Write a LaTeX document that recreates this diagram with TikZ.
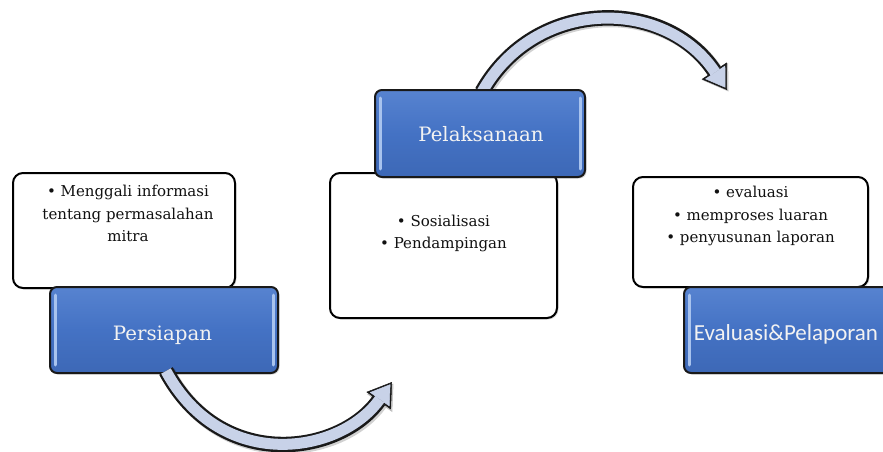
\documentclass[tikz,border=0pt]{standalone}
\usepackage{fontspec}
\setmainfont{DejaVu Serif}
\newfontfamily\sansf{Carlito}
\usetikzlibrary{arrows.meta,shadows}
\definecolor{blueTop}{HTML}{5783D0}
\definecolor{blueMid}{HTML}{4472C4}
\definecolor{blueBot}{HTML}{3D68B6}
\definecolor{bevel}{HTML}{A8C3EE}
\definecolor{arrowfill}{HTML}{C8D2E8}
\definecolor{txtdark}{HTML}{111111}
\tikzset{
  whitebox/.style={draw=black, line width=2pt, rounded corners=10pt, fill=white,
    drop shadow={opacity=0.25, shadow xshift=1.5pt, shadow yshift=-1.5pt}, inner sep=0pt},
  bluebox/.style={draw=black!90, line width=2pt, rounded corners=7pt,
    top color=blueTop, bottom color=blueBot, middle color=blueMid,
    drop shadow={opacity=0.3, shadow xshift=1.5pt, shadow yshift=-1.5pt}, inner sep=0pt},
  smalltxt/.style={align=center, inner sep=0pt, text=txtdark, font=\fontsize{15}{22.8}\selectfont},
  bigtxt/.style={inner sep=0pt, text=white!95!black, font=\fontsize{19.8}{23}\selectfont},
  bevelline/.style={bevel, line width=3pt, line cap=round},
  arrowout/.style={draw=black!90, line width=15.5pt, -{Triangle[width=30pt,length=23pt,line width=0.5pt]}},
  arrowin/.style={draw=arrowfill, line width=11pt, shorten >=2.8pt, -{Triangle[width=24pt,length=18.5pt,line width=0.5pt]}},
  arrowshadow/.style={draw=black, opacity=0.18, line width=16pt, -{Triangle[width=31pt,length=24pt,line width=0.5pt]}},
}
\begin{document}
\begin{tikzpicture}[x=1pt,y=-1pt]
\useasboundingbox (0,0) rectangle (883,452);
\clip (0,0) rectangle (883,452);

% boxes
\node[whitebox, minimum width=222pt, minimum height=115pt] (w1) at (124,230.5) {};
\node[bluebox, minimum width=228pt, minimum height=86pt] (b1) at (164,330) {};
\node[whitebox, minimum width=227pt, minimum height=145pt] (w2) at (443.5,245.5) {};
\node[whitebox, minimum width=235pt, minimum height=110pt] (w3) at (750.5,232) {};
\node[bluebox, minimum width=206pt, minimum height=86pt] (b3) at (787,330) {};

% arrow end points
\coordinate (a1s) at (166,371);
\coordinate (a1e) at (392,382);
\coordinate (a2s) at (482,92);
\coordinate (a2e) at (727,90);

% shadows of arrows
\begin{scope}[transform canvas={xshift=1.5pt,yshift=-1.5pt}]
\draw[arrowshadow] (a1s) .. controls (221,473) and (340,455) .. (a1e);
\draw[arrowshadow] (a2s) .. controls (535,-3) and (665,-3) .. (a2e);
\end{scope}
\draw[arrowout] (a1s) .. controls (221,473) and (340,455) .. (a1e);
\draw[arrowin] (a1s) .. controls (221,473) and (340,455) .. (a1e);
\draw[arrowout] (a2s) .. controls (535,-3) and (665,-3) .. (a2e);
\draw[arrowin] (a2s) .. controls (535,-3) and (665,-3) .. (a2e);

% Pelaksanaan box over arrow tail
\node[bluebox, minimum width=210pt, minimum height=87pt] (b2) at (480,133.5) {};

% bevel strips
\foreach \b in {b1,b2,b3}{
  \draw[bevelline] ([xshift=6pt,yshift=-9pt]\b.north west) -- ([xshift=6pt,yshift=9pt]\b.south west);
  \draw[bevelline] ([xshift=-6pt,yshift=-9pt]\b.north east) -- ([xshift=-6pt,yshift=9pt]\b.south east);
}

% texts
\node[smalltxt, anchor=north] (t1) at ([xshift=4pt,yshift=-12.8pt]w1.north)
  {• Menggali informasi\\tentang permasalahan\\mitra};
\node[smalltxt, anchor=north] (t2) at ([yshift=-42.5pt]w2.north)
  {• Sosialisasi\\• Pendampingan};
\node[smalltxt, anchor=north] (t3) at ([yshift=-9.8pt]w3.north)
  {• evaluasi\\• memproses luaran\\• penyusunan laporan};

\node[bigtxt, anchor=base] (l1) at (162.5,340) {Persiapan};
\node[bigtxt, anchor=base] (l2) at (481,141.7) {Pelaksanaan};
\node[bigtxt, anchor=base, font=\sansf\fontsize{23}{26}\selectfont] (l3) at (786,340) {Evaluasi\&Pelaporan};
\end{tikzpicture}
\end{document}
